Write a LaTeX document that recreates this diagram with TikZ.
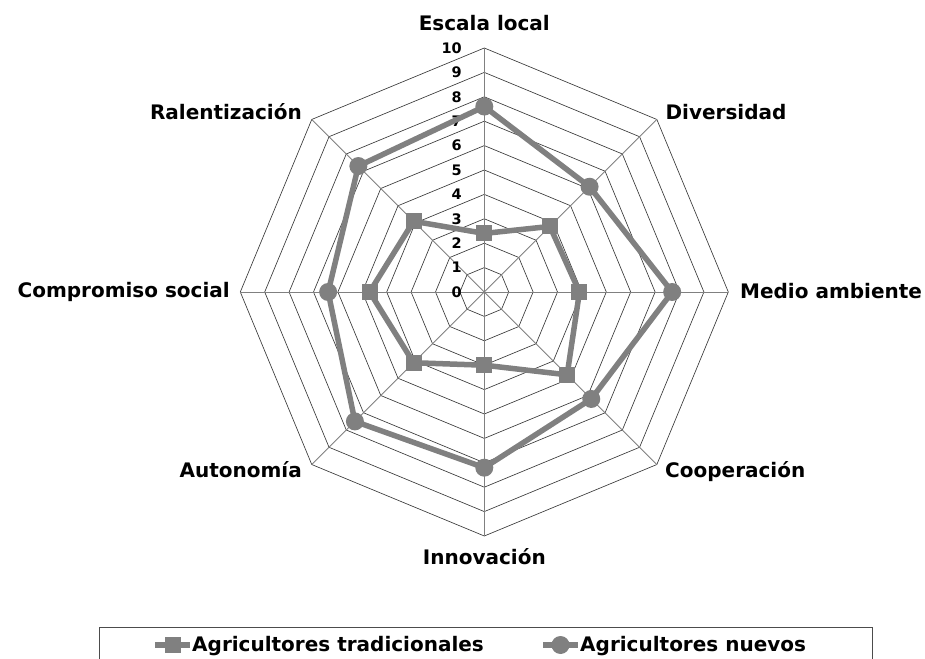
\documentclass[tikz,border=0pt]{standalone}
\usepackage{fontspec}
\setmainfont{DejaVu Sans}
\definecolor{serie}{HTML}{808080}
\definecolor{rejilla}{HTML}{383838}
\tikzset{
  gridline/.style={draw=rejilla, line width=0.65pt},
  axisline/.style={draw=serie, line width=0.9pt},
  serieline/.style={draw=serie, line width=5.5pt, line join=round},
  sqmark/.style={rectangle, fill=serie, minimum size=16pt, inner sep=0pt},
  cimark/.style={circle, fill=serie, minimum size=18pt, inner sep=0pt},
  catlabel/.style={font=\bfseries\fontsize{20}{24}\selectfont, inner sep=0pt},
  ticklabel/.style={font=\bfseries\fontsize{14.5}{17}\selectfont, inner sep=0pt, anchor=east},
  legtext/.style={font=\bfseries\fontsize{20}{24}\selectfont, inner sep=0pt, anchor=base west}
}
\begin{document}
\begin{tikzpicture}[x=1pt,y=1pt]
\useasboundingbox (0,0) rectangle (925,658);
\begin{scope}[shift={(484.3,366)}]
  % grid polygons
  \foreach \k in {1,...,10}{
    \pgfmathsetmacro{\r}{\k*24.4}
    \draw[gridline] (90:\r) -- (45:\r) -- (0:\r) -- (-45:\r) -- (-90:\r) -- (-135:\r) -- (180:\r) -- (135:\r) -- cycle;
  }
  % axes
  \coordinate (O) at (0,0);
  \foreach \a/\n in {90/a1,45/a2,0/a3,-45/a4,-90/a5,-135/a6,180/a7,135/a8}{
    \coordinate (\n) at (\a:244);
    \draw[axisline] (O) -- (\n);
  }
  % tick labels
  \foreach \k in {0,...,10}{
    \node[ticklabel] (tk\k) at (-22.3,{\k*24.4}) {\k};
  }
  % series coordinates
  \foreach \a/\v/\n in {90/2.4/t1,45/3.8/t2,0/3.9/t3,-45/4.8/t4,-90/3.0/t5,-135/4.1/t6,180/4.7/t7,135/4.1/t8}{
    \coordinate (\n) at (\a:{\v*24.4});
  }
  \foreach \a/\v/\n in {90/7.6/n1,45/6.1/n2,0/7.7/n3,-45/6.2/n4,-90/7.2/n5,-135/7.5/n6,180/6.4/n7,135/7.3/n8}{
    \coordinate (\n) at (\a:{\v*24.4});
  }
  \draw[serieline] (t1) -- (t2) -- (t3) -- (t4) -- (t5) -- (t6) -- (t7) -- (t8) -- cycle;
  \draw[serieline] (n1) -- (n2) -- (n3) -- (n4) -- (n5) -- (n6) -- (n7) -- (n8) -- cycle;
  \foreach \n in {1,...,8}{
    \node[sqmark] (mt\n) at (t\n) {};
    \node[cimark] (mn\n) at (n\n) {};
  }
\end{scope}
% category labels
\node[catlabel, anchor=base] (l1) at (484.3,627) {Escala local};
\node[catlabel, anchor=base] (l2) at (726,538) {Diversidad};
\node[catlabel, anchor=base west] (l3) at (740,359.7) {Medio ambiente};
\node[catlabel, anchor=base west] (l4) at (665,180) {Cooperación};
\node[catlabel, anchor=base] (l5) at (484.3,93) {Innovación};
\node[catlabel, anchor=base east] (l6) at (302,180) {Autonomía};
\node[catlabel, anchor=base east] (l7) at (230,360.7) {Compromiso social};
\node[catlabel, anchor=base east] (l8) at (302,538.7) {Ralentización};
% legend
\draw[draw=black!70, line width=0.8pt] (99,-5) -- (99,31) -- (872,31) -- (872,-5);
\coordinate (lgA1) at (155,13);
\coordinate (lgA2) at (190,13);
\draw[serieline] (lgA1) -- (lgA2);
\node[sqmark] (lgAm) at (172.5,13) {};
\node[legtext] (lgAt) at (192,6.3) {Agricultores tradicionales};
\coordinate (lgB1) at (543,13);
\coordinate (lgB2) at (578,13);
\draw[serieline] (lgB1) -- (lgB2);
\node[cimark] (lgBm) at (560.5,13) {};
\node[legtext] (lgBt) at (580,6.3) {Agricultores nuevos};
\end{tikzpicture}
\end{document}
